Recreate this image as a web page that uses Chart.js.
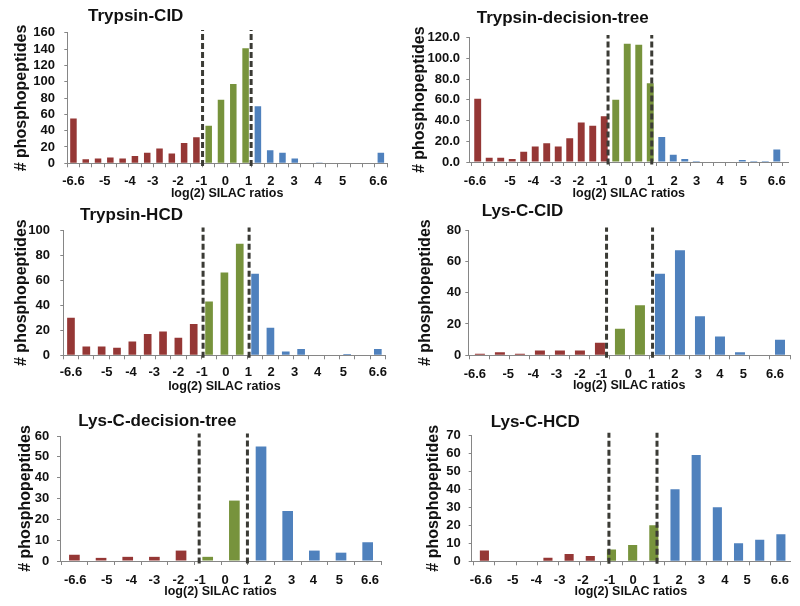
<!DOCTYPE html>
<html>
<head>
<meta charset="utf-8">
<script src="https://cdn.jsdelivr.net/npm/chart.js@4.4.1/dist/chart.umd.min.js"></script>
<style>
  body { margin: 0; background: #fff; }
  #wrap { position: relative; width: 800px; height: 606px; overflow: hidden; background: #fff; }
  #wrap canvas { position: absolute; }
  .ttl { position: absolute; font: bold 17px 'Liberation Sans', Arial, sans-serif; line-height: 17px; color: #111; white-space: nowrap; }
</style>
</head>
<body>
<div id="wrap"></div>
<script>
// x tick labels (log2 SILAC ratio), same text under every histogram
const ratioLabels = ['-6.6', '-5', '-4', '-3', '-2', '-1', '0', '1', '2', '3', '4', '5', '6.6'];

// counts per bin: down-regulated (red), unchanged (green), up-regulated (blue)
// tick / cut positions are in bin-number units
const trypCidDown = [55, 5, 6, 7, 6, 9, 13, 18, 12, 25, 32];
const trypCidMid = [46, 78, 97, 141];
const trypCidUp = [70, 16, 13, 6, 0, 1, 0, 0, 0, 0, 13];
const trypCidTicks = [0, 2.55, 4.6, 6.45, 8.5, 10.4, 12.35, 14.25, 16.05, 17.95, 19.9, 21.9, 24.8];
const trypCidCuts = [10.5, 14.45];

const trypTreeDown = [61, 4, 4, 3, 10, 15, 18, 15, 23, 38, 35, 44];
const trypTreeMid = [60, 114, 113, 76];
const trypTreeUp = [24, 7, 3, 1, 0, 0, 0, 2, 1, 1, 12];
const trypTreeTicks = [-0.23, 2.81, 4.83, 6.78, 8.75, 10.78, 13.1, 15.04, 17.07, 19.04, 21.07, 23.1, 26];
const trypTreeCuts = [11.33, 15.13];

const trypHcdDown = [30, 7, 7, 6, 11, 17, 19, 14, 25];
const trypHcdMid = [43, 66, 89];
const trypHcdUp = [65, 22, 3, 5, 0, 0, 1, 0, 5];
const trypHcdTicks = [0, 2.33, 3.91, 5.43, 7, 8.53, 10.09, 11.57, 13.05, 14.57, 16.07, 17.76, 20];
const trypHcdCuts = [8.61, 11.61];

const lysCidDown = [1, 2, 1, 3, 3, 3, 8];
const lysCidMid = [17, 32];
const lysCidUp = [52, 67, 25, 12, 2, 0, 10];
const lysCidTicks = [-0.25, 1.42, 2.67, 3.83, 5, 6.08, 7.42, 8.58, 9.75, 10.92, 12, 13.17, 14.75];
const lysCidCuts = [6.33, 8.63];

const lysTreeDown = [3, 1.5, 2, 2, 5];
const lysTreeMid = [2, 29];
const lysTreeUp = [55, 24, 5, 4, 9];
const lysTreeTicks = [0.03, 1.21, 2.13, 3, 3.9, 4.71, 5.65, 6.46, 7.27, 8.15, 8.96, 9.94, 11.09];
const lysTreeCuts = [4.68, 6.49];

const lysHcdDown = [6, 0, 0, 2, 4, 3];
const lysHcdMid = [6.5, 9, 20];
const lysHcdUp = [40, 59, 30, 10, 12, 15];
const lysHcdTicks = [-0.16, 1.34, 2.45, 3.55, 4.65, 5.91, 7.02, 8.12, 9.19, 10.25, 11.35, 12.41, 13.95];
const lysHcdCuts = [5.88, 8.15];

// y axis max and step for each panel
const yAxisMax = [160, 120, 100, 80, 60, 70];
const yAxisStep = [20, 20, 20, 10, 10, 10];

const RED = '#953735', GREEN = '#77933C', BLUE = '#4F81BD';
const AXIS = '#868686';
const FONT = "'Liberation Sans', Arial, sans-serif";

Chart.defaults.font.family = FONT;
Chart.defaults.color = '#111';

// page layout of every panel (canvas box, plot box in page px, text spots)
const panels = [
  { title: 'Trypsin-CID', down: trypCidDown, mid: trypCidMid, up: trypCidUp, ticks: trypCidTicks, cuts: trypCidCuts,
    box: [0, 0, 400, 204], plot: [67.3, 32.7, 387, 163.3], xMin: -0.5, xMax: 25.5, barPct: 0.53,
    tickY: 181.7, xTitleY: 193.5, yTitleX: 22, yPad: 9.3, titleAt: [88, 15] },
  { title: 'Trypsin-decision-tree', down: trypTreeDown, mid: trypTreeMid, up: trypTreeUp, ticks: trypTreeTicks, cuts: trypTreeCuts,
    box: [400, 0, 400, 204], plot: [469.3, 37.5, 788.3, 162], xMin: -0.73, xMax: 27, barPct: 0.6,
    tickY: 181.7, xTitleY: 194, yTitleX: 419.5, yPad: 6.3, titleAt: [476.7, 17], decimals: 1 },
  { title: 'Trypsin-HCD', down: trypHcdDown, mid: trypHcdMid, up: trypHcdUp, ticks: trypHcdTicks, cuts: trypHcdCuts,
    box: [0, 200, 400, 204], plot: [63.3, 230, 385.5, 355.3], xMin: -0.5, xMax: 20.5, barPct: 0.5,
    tickY: 372.7, xTitleY: 386.5, yTitleX: 21.7, yPad: 10.3, titleAt: [80, 214] },
  { title: 'Lys-C-CID', down: lysCidDown, mid: lysCidMid, up: lysCidUp, ticks: lysCidTicks, cuts: lysCidCuts,
    box: [400, 200, 400, 204], plot: [468.3, 230, 790, 355.3], xMin: -0.58, xMax: 15.5, barPct: 0.5,
    tickY: 374, xTitleY: 386, yTitleX: 425.8, yPad: 4, titleAt: [481.7, 210] },
  { title: 'Lys-C-decision-tree', down: lysTreeDown, mid: lysTreeMid, up: lysTreeUp, ticks: lysTreeTicks, cuts: lysTreeCuts,
    box: [0, 400, 400, 206], plot: [60, 436, 381, 561], xMin: -0.54, xMax: 11.5, barPct: 0.4,
    tickY: 580, xTitleY: 591.7, yTitleX: 25.8, yPad: 7.7, titleAt: [78.3, 420.7] },
  { title: 'Lys-C-HCD', down: lysHcdDown, mid: lysHcdMid, up: lysHcdUp, ticks: lysHcdTicks, cuts: lysHcdCuts,
    box: [400, 400, 400, 206], plot: [471.7, 435.3, 790, 561.3], xMin: -0.6, xMax: 14.43, barPct: 0.43,
    tickY: 580, xTitleY: 591.7, yTitleX: 433.3, yPad: 8, titleAt: [490.7, 421.3] }
];

const wrap = document.getElementById('wrap');

function drawPanel(p, idx) {
  const [cx, cy, cw, ch] = p.box;
  const [l, t, r, b] = p.plot;
  const yMax = yAxisMax[idx];

  const canvas = document.createElement('canvas');
  canvas.width = cw;
  canvas.height = ch;
  canvas.style.left = cx + 'px';
  canvas.style.top = cy + 'px';
  wrap.appendChild(canvas);

  const ttl = document.createElement('div');
  ttl.className = 'ttl';
  ttl.textContent = p.title;
  ttl.style.left = p.titleAt[0] + 'px';
  ttl.style.top = (p.titleAt[1] - 8.3) + 'px';
  wrap.appendChild(ttl);

  const nDown = p.down.length, nMid = p.mid.length;
  const nBins = nDown + nMid + p.up.length;
  const toPts = (arr, start) => arr.map((v, i) => ({ x: start + i, y: v }));

  // bin edges get the little tick marks on the axis line
  const edges = [];
  for (let i = 0; i <= nBins; i++) {
    const e = i - 0.5;
    if (e >= p.xMin && e <= p.xMax) edges.push(e);
  }

  const bars = [
    { data: toPts(p.down, 0), backgroundColor: RED },
    { data: toPts(p.mid, nDown), backgroundColor: GREEN },
    { data: toPts(p.up, nDown + nMid), backgroundColor: BLUE }
  ].map(d => ({ ...d, type: 'bar', grouped: false, categoryPercentage: 1, barPercentage: p.barPct, order: 2 }));

  const lines = p.cuts.map(c => ({
    type: 'line',
    data: [{ x: c, y: -yMax * 0.02 }, { x: c, y: yMax * 1.02 }],
    borderColor: '#3b3b35',
    borderWidth: 3,
    borderDash: [6, 3],
    pointRadius: 0,
    clip: false,
    order: 1
  }));

  const xlHeight = cy + ch - (b + 5);

  new Chart(canvas, {
    type: 'bar',
    data: { datasets: [...bars, ...lines] },
    options: {
      responsive: false,
      animation: false,
      devicePixelRatio: 1,
      layout: { padding: { top: t - cy, right: cx + cw - r, bottom: 0, left: 0 } },
      plugins: { legend: { display: false }, tooltip: { enabled: false } },
      scales: {
        x: {
          type: 'linear', position: 'bottom', weight: 1, bounds: 'data',
          min: p.xMin, max: p.xMax, offset: false,
          afterBuildTicks: s => { s.ticks = edges.map(v => ({ value: v })); },
          afterFit: s => { s.height = 5; },
          grid: { offset: false, drawOnChartArea: false, tickLength: 4, color: AXIS },
          border: { color: AXIS },
          ticks: { display: false }
        },
        xl: {
          type: 'linear', position: 'bottom', weight: 2, bounds: 'data',
          min: p.xMin, max: p.xMax, offset: false,
          afterBuildTicks: s => { s.ticks = p.ticks.map(v => ({ value: v })); },
          afterFit: s => { s.height = xlHeight; },
          grid: { display: false, drawTicks: false, tickLength: 0, offset: false },
          border: { display: false },
          ticks: {
            autoSkip: false, maxRotation: 0,
            padding: p.tickY - b - 5 - 6.5,
            font: { size: 13, weight: 'bold', lineHeight: 1 },
            callback: (v, i) => ratioLabels[i]
          },
          title: {
            display: true, text: 'log(2) SILAC ratios',
            font: { size: 12.5, weight: 'bold', lineHeight: 1 },
            padding: { top: 0, bottom: cy + ch - p.xTitleY - 6.25 }
          }
        },
        y: {
          type: 'linear', min: 0, max: yMax,
          afterFit: s => { s.width = l - cx; },
          grid: { drawOnChartArea: false, tickLength: 3, color: AXIS },
          border: { color: AXIS },
          ticks: {
            stepSize: yAxisStep[idx],
            padding: p.yPad,
            font: { size: 13, weight: 'bold', lineHeight: 1 },
            callback: v => p.decimals ? v.toFixed(p.decimals) : v
          },
          title: {
            display: true, text: '# phosphopeptides',
            font: { size: 16, weight: 'bold', lineHeight: 1 },
            padding: { top: p.yTitleX - cx - 8, bottom: 0 }
          }
        }
      }
    }
  });
}

panels.forEach(drawPanel);
</script>
</body>
</html>
